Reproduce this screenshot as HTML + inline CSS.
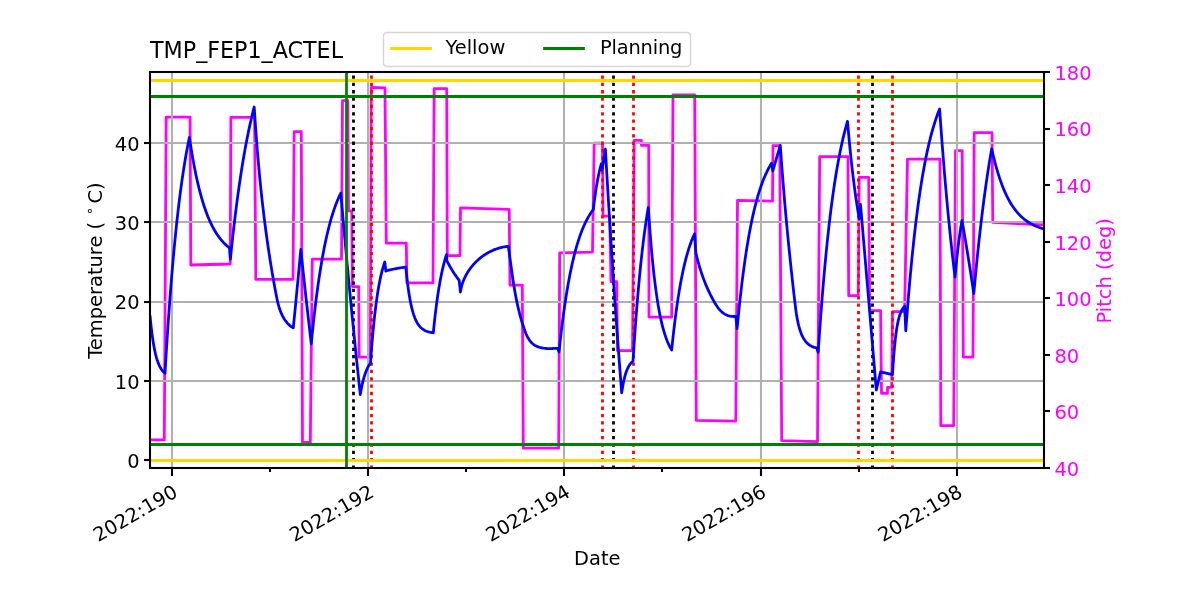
<!DOCTYPE html>
<html lang="en"><head><meta charset="utf-8"><title>TMP_FEP1_ACTEL</title>
<style>html,body{margin:0;padding:0;background:#fff}svg{display:block;will-change:transform}</style></head>
<body>
<svg width="1200" height="600" viewBox="0 0 1200 600" font-family="'DejaVu Sans','Liberation Sans',sans-serif">
<rect width="1200" height="600" fill="#fff"/>
<clipPath id="ax"><rect x="150" y="72" width="894" height="396"/></clipPath>
<g clip-path="url(#ax)" fill="none" stroke-linejoin="round">
<path d="M150 439.9 L164.3 439.9 L166.2 117.1 L190.1 117.1 L190.8 265 L230.2 264 L230.9 117.4 L254.6 117.4 L255.8 279.4 L293 279.4 L294.2 131.6 L301.3 131.6 L302.5 442.4 L310.3 442.4 L312.3 259.1 L341.5 259.1 L342.5 100.7 L347.8 100.7 L348.5 210.8 L351.8 210.8 L352.5 286.6 L358.7 286.6 L359.2 357.1 L370.3 357.1 L371.3 87.4 L385 87.9 L386.3 243.2 L406.3 243.2 L406.9 282.9 L433 282.9 L434.2 88.7 L446.7 88.7 L447.3 255.7 L460 255.7 L460.5 207.9 L509.2 209.4 L510 285.2 L522.3 285.2 L523.3 448.2 L558.7 448.2 L559.7 252.9 L592.5 252.1 L594.2 143.2 L602.5 143.2 L603 216.1 L609.7 216.1 L611 281.6 L616.7 281.6 L617.5 350.7 L632.5 350.7 L634.2 140.4 L641.3 140.4 L641.5 145.4 L648.7 145.4 L649 317.1 L671.7 317.1 L673 94.9 L694.7 94.9 L696.3 420.4 L735.8 421.2 L737.5 200.4 L772.5 201.1 L773 145.7 L779.7 145.7 L781.7 440.7 L817.5 441.6 L819.7 156.6 L848 156.6 L848.7 295.7 L858.3 295.7 L859.2 177.4 L868.7 177.4 L869.7 310.7 L880.6 310.7 L881.5 393.3 L887.5 393.3 L887.5 387.4 L891.7 387.4 L892.5 311.6 L904.6 311.6 L907.5 159.1 L940 159.1 L940.8 425.7 L953.7 425.7 L955.5 150.7 L962.2 150.7 L963.3 357.1 L973 357.1 L974.2 132.7 L992 132.7 L992.8 222.4 L1044 224.9" stroke="#f0f" stroke-width="2.78"/>
</g>
<g stroke="#000" stroke-width="2.08">
<line x1="1044" x2="1050" y1="468" y2="468"/>
<line x1="1044" x2="1050" y1="411" y2="411"/>
<line x1="1044" x2="1050" y1="355" y2="355"/>
<line x1="1044" x2="1050" y1="298" y2="298"/>
<line x1="1044" x2="1050" y1="242" y2="242"/>
<line x1="1044" x2="1050" y1="185" y2="185"/>
<line x1="1044" x2="1050" y1="129" y2="129"/>
<line x1="1044" x2="1050" y1="72" y2="72"/>
</g>
<g font-size="19.44" fill="#f0f">
<text x="1054.42" y="475.79">40</text>
<text x="1054.42" y="419.22">60</text>
<text x="1054.42" y="362.64">80</text>
<text x="1054.42" y="306.07">100</text>
<text x="1054.42" y="249.5">120</text>
<text x="1054.42" y="192.93">140</text>
<text x="1054.42" y="136.36">160</text>
<text x="1054.42" y="79.79">180</text>
<text transform="translate(1111.06 270.8) rotate(-90)" text-anchor="middle">Pitch (deg)</text>
</g>
<g clip-path="url(#ax)" fill="none">
<g stroke="#b0b0b0" stroke-width="2.08">
<line x1="172" x2="172" y1="468" y2="72"/>
<line x1="368" x2="368" y1="468" y2="72"/>
<line x1="564" x2="564" y1="468" y2="72"/>
<line x1="761" x2="761" y1="468" y2="72"/>
<line x1="957" x2="957" y1="468" y2="72"/>
<line x1="150" x2="1044" y1="460" y2="460"/>
<line x1="150" x2="1044" y1="381" y2="381"/>
<line x1="150" x2="1044" y1="302" y2="302"/>
<line x1="150" x2="1044" y1="222" y2="222"/>
<line x1="150" x2="1044" y1="143" y2="143"/>
</g>
<g stroke-width="2.78" stroke-dasharray="3.3 4.06">
<line x1="353.5" x2="353.5" y1="468.76" y2="72" stroke="#000"/>
<line x1="613.5" x2="613.5" y1="468.76" y2="72" stroke="#000"/>
<line x1="872.5" x2="872.5" y1="468.76" y2="72" stroke="#000"/>
<line x1="371.5" x2="371.5" y1="468.76" y2="72" stroke="#f00"/>
<line x1="602.5" x2="602.5" y1="468.76" y2="72" stroke="#f00"/>
<line x1="633.5" x2="633.5" y1="468.76" y2="72" stroke="#f00"/>
<line x1="858.5" x2="858.5" y1="468.76" y2="72" stroke="#f00"/>
<line x1="892.5" x2="892.5" y1="468.76" y2="72" stroke="#f00"/>
</g>
<path d="M150 315.3 L150.6 321.51 L151.2 327.11 L151.8 332.15 L152.4 336.69 L153 340.78 L153.6 344.46 L154.2 347.78 L154.8 350.77 L155.4 353.46 L156 355.88 L156.6 358.07 L157.2 360.03 L157.8 361.81 L158.4 363.4 L159 364.84 L159.6 366.14 L160.2 367.3 L160.8 368.35 L161.4 369.3 L162 370.15 L162.6 370.92 L163.2 371.61 L163.8 372.23 L164.4 372.79 L165 373.3 L165.6 363.24 L166.19 353.49 L166.79 344.03 L167.38 334.87 L167.98 326 L168.57 317.39 L169.17 309.06 L169.76 300.98 L170.36 293.15 L170.95 285.56 L171.55 278.2 L172.14 271.07 L172.74 264.16 L173.33 257.47 L173.93 250.98 L174.52 244.69 L175.12 238.6 L175.71 232.69 L176.31 226.97 L176.9 221.42 L177.5 216.04 L178.09 210.83 L178.69 205.78 L179.28 200.89 L179.88 196.15 L180.47 191.55 L181.07 187.1 L181.66 182.78 L182.26 178.59 L182.85 174.54 L183.45 170.61 L184.04 166.8 L184.64 163.11 L185.23 159.53 L185.83 156.07 L186.42 152.71 L187.02 149.45 L187.61 146.29 L188.21 143.24 L188.8 140.27 L189.4 137.4 L190 141.4 L190.6 145.27 L191.2 149.02 L191.79 152.64 L192.39 156.15 L192.99 159.55 L193.59 162.84 L194.19 166.02 L194.79 169.1 L195.39 172.08 L195.98 174.96 L196.58 177.75 L197.18 180.46 L197.78 183.07 L198.38 185.6 L198.98 188.05 L199.57 190.43 L200.17 192.72 L200.77 194.94 L201.37 197.09 L201.97 199.17 L202.57 201.19 L203.17 203.14 L203.76 205.02 L204.36 206.85 L204.96 208.62 L205.56 210.33 L206.16 211.98 L206.76 213.59 L207.36 215.14 L207.95 216.64 L208.55 218.09 L209.15 219.5 L209.75 220.86 L210.35 222.18 L210.95 223.45 L211.54 224.68 L212.14 225.88 L212.74 227.04 L213.34 228.15 L213.94 229.24 L214.54 230.28 L215.14 231.3 L215.73 232.28 L216.33 233.23 L216.93 234.15 L217.53 235.04 L218.13 235.9 L218.73 236.74 L219.33 237.54 L219.92 238.32 L220.52 239.08 L221.12 239.81 L221.72 240.52 L222.32 241.21 L222.92 241.87 L223.51 242.51 L224.11 243.13 L224.71 243.73 L225.31 244.32 L225.91 244.88 L226.51 245.43 L227.11 245.95 L227.7 246.46 L228.3 246.96 L228.9 247.44 L229.5 247.9 L230.4 259 L231 253.19 L231.59 247.52 L232.19 241.98 L232.78 236.57 L233.38 231.29 L233.97 226.13 L234.56 221.09 L235.16 216.17 L235.75 211.36 L236.35 206.67 L236.94 202.09 L237.54 197.61 L238.13 193.24 L238.73 188.97 L239.32 184.8 L239.92 180.72 L240.51 176.74 L241.11 172.86 L241.7 169.06 L242.3 165.36 L242.89 161.74 L243.49 158.21 L244.09 154.75 L244.68 151.38 L245.28 148.09 L245.87 144.87 L246.47 141.73 L247.06 138.67 L247.66 135.67 L248.25 132.75 L248.84 129.89 L249.44 127.1 L250.03 124.37 L250.63 121.71 L251.22 119.11 L251.82 116.57 L252.41 114.1 L253.01 111.67 L253.6 109.31 L254.2 107 L254.79 116.04 L255.38 124.65 L255.98 132.87 L256.57 140.7 L257.16 148.18 L257.75 155.34 L258.35 162.21 L258.94 168.79 L259.53 175.12 L260.12 181.21 L260.72 187.08 L261.31 192.75 L261.9 198.23 L262.49 203.53 L263.09 208.67 L263.68 213.65 L264.27 218.48 L264.86 223.18 L265.46 227.76 L266.05 232.21 L266.64 236.55 L267.23 240.79 L267.83 244.92 L268.42 248.96 L269.01 252.91 L269.6 256.77 L270.2 260.55 L270.79 264.25 L271.38 267.88 L271.97 271.44 L272.57 274.93 L273.16 278.35 L273.75 281.72 L274.34 285.02 L274.93 288.28 L275.53 291.47 L276.12 294.6 L276.71 297.6 L277.3 300.39 L277.9 302.91 L278.49 305.18 L279.08 307.24 L279.67 309.08 L280.27 310.73 L280.86 312.25 L281.45 313.67 L282.04 314.92 L282.64 316.11 L283.23 317.19 L283.82 318.22 L284.41 319.16 L285.01 320.06 L285.6 320.88 L286.19 321.69 L286.78 322.4 L287.38 323.11 L287.97 323.75 L288.56 324.34 L289.15 324.94 L289.75 325.45 L290.34 325.92 L290.93 326.39 L291.52 326.81 L292.12 327.17 L292.71 327.54 L293.3 327.9 L293.88 322.07 L294.45 316.21 L295.03 310.31 L295.61 304.38 L296.18 298.42 L296.76 292.42 L297.34 286.39 L297.92 280.33 L298.49 274.23 L299.07 268.1 L299.65 261.94 L300.22 255.74 L300.8 249.5 L301.38 254.99 L301.96 260.45 L302.54 265.88 L303.12 271.28 L303.7 276.65 L304.28 281.99 L304.86 287.3 L305.44 292.58 L306.02 297.83 L306.61 303.05 L307.19 308.24 L307.77 313.4 L308.35 318.53 L308.93 323.63 L309.51 328.7 L310.09 333.75 L310.67 338.76 L311.25 343.75 L311.84 337.73 L312.43 331.9 L313.02 326.25 L313.61 320.79 L314.2 315.51 L314.8 310.39 L315.39 305.44 L315.98 300.65 L316.57 296.02 L317.16 291.53 L317.75 287.19 L318.34 282.98 L318.93 278.92 L319.52 274.98 L320.12 271.17 L320.71 267.49 L321.3 263.92 L321.89 260.46 L322.48 257.12 L323.07 253.89 L323.66 250.76 L324.25 247.73 L324.84 244.8 L325.43 241.96 L326.02 239.21 L326.62 236.56 L327.21 233.98 L327.8 231.5 L328.39 229.09 L328.98 226.76 L329.57 224.5 L330.16 222.32 L330.75 220.2 L331.34 218.16 L331.94 216.18 L332.53 214.26 L333.12 212.41 L333.71 210.61 L334.3 208.88 L334.89 207.2 L335.48 205.57 L336.07 204 L336.66 202.47 L337.25 201 L337.85 199.57 L338.44 198.19 L339.03 196.86 L339.62 195.56 L340.21 194.31 L340.8 193.1 L341.39 199.9 L341.98 206.66 L342.57 213.37 L343.16 220.03 L343.75 226.65 L344.35 233.22 L344.94 239.75 L345.53 246.23 L346.12 252.67 L346.71 259.06 L347.3 265.41 L347.89 271.71 L348.48 277.97 L349.07 284.19 L349.66 290.37 L350.25 296.5 L350.85 302.59 L351.44 308.64 L352.03 314.64 L352.62 320.61 L353.21 326.53 L353.8 332.41 L354.39 338.25 L354.98 344.06 L355.57 349.82 L356.16 355.54 L356.75 361.22 L357.35 366.86 L357.94 372.47 L358.53 378.03 L359.12 383.56 L359.71 389.05 L360.3 394.5 L360.9 391.06 L361.5 387.91 L362.1 385.03 L362.7 382.41 L363.3 380.01 L363.9 377.81 L364.5 375.81 L365.1 373.98 L365.7 372.31 L366.3 370.78 L366.9 369.38 L367.5 368.11 L368.1 366.94 L368.7 365.88 L369.3 364.9 L369.9 364.01 L370.5 363.2 L371.1 354.92 L371.69 347.18 L372.29 339.95 L372.88 333.2 L373.48 326.89 L374.07 321 L374.67 315.5 L375.27 310.36 L375.86 305.56 L376.46 301.08 L377.05 296.89 L377.65 292.98 L378.25 289.32 L378.84 285.91 L379.44 282.72 L380.03 279.74 L380.63 276.96 L381.23 274.36 L381.82 271.94 L382.42 269.67 L383.01 267.55 L383.61 265.57 L384.2 263.73 L384.8 262 L385.8 271 L386.39 270.83 L386.98 270.67 L387.56 270.51 L388.15 270.35 L388.74 270.2 L389.33 270.05 L389.92 269.91 L390.51 269.77 L391.09 269.63 L391.68 269.5 L392.27 269.36 L392.86 269.24 L393.45 269.11 L394.04 268.99 L394.62 268.87 L395.21 268.76 L395.8 268.64 L396.39 268.53 L396.98 268.43 L397.56 268.32 L398.15 268.22 L398.74 268.12 L399.33 268.02 L399.92 267.93 L400.51 267.84 L401.09 267.75 L401.68 267.66 L402.27 267.57 L402.86 267.49 L403.45 267.41 L404.04 267.33 L404.62 267.25 L405.21 267.17 L405.8 267.1 L406.4 273.14 L407 278.64 L407.59 283.63 L408.19 288.17 L408.79 292.3 L409.39 296.05 L409.98 299.47 L410.58 302.57 L411.18 305.39 L411.78 307.96 L412.38 310.29 L412.97 312.41 L413.57 314.34 L414.17 316.09 L414.77 317.68 L415.37 319.13 L415.96 320.45 L416.56 321.65 L417.16 322.73 L417.76 323.72 L418.35 324.62 L418.95 325.44 L419.55 326.19 L420.15 326.86 L420.75 327.48 L421.34 328.04 L421.94 328.54 L422.54 329.01 L423.14 329.43 L423.73 329.81 L424.33 330.16 L424.93 330.47 L425.53 330.76 L426.13 331.02 L426.72 331.26 L427.32 331.47 L427.92 331.67 L428.52 331.85 L429.12 332.01 L429.71 332.16 L430.31 332.29 L430.91 332.41 L431.51 332.52 L432.1 332.63 L432.7 332.72 L433.3 332.8 L433.9 326.85 L434.5 321.22 L435.1 315.88 L435.7 310.83 L436.3 306.05 L436.9 301.53 L437.5 297.24 L438.1 293.19 L438.7 289.35 L439.3 285.71 L439.9 282.27 L440.5 279.01 L441.1 275.92 L441.7 273 L442.3 270.24 L442.9 267.62 L443.5 265.14 L444.1 262.8 L444.7 260.58 L445.3 258.48 L445.9 256.48 L446.5 254.6 L446.9 260.8 L447.49 261.94 L448.07 263.06 L448.66 264.16 L449.24 265.23 L449.83 266.28 L450.41 267.31 L451 268.32 L451.59 269.3 L452.17 270.27 L452.76 271.22 L453.34 272.14 L453.93 273.05 L454.51 273.94 L455.1 274.8 L455.69 275.66 L456.27 276.49 L456.86 277.3 L457.44 278.1 L458.03 278.88 L458.61 279.65 L459.2 280.4 L460.4 292 L461 288.68 L461.6 286.22 L462.2 284.17 L462.79 282.39 L463.39 280.8 L463.99 279.34 L464.59 278 L465.19 276.75 L465.79 275.58 L466.39 274.47 L466.99 273.42 L467.58 272.42 L468.18 271.47 L468.78 270.56 L469.38 269.68 L469.98 268.84 L470.58 268.03 L471.18 267.25 L471.78 266.5 L472.38 265.77 L472.97 265.07 L473.57 264.39 L474.17 263.73 L474.77 263.09 L475.37 262.47 L475.97 261.87 L476.57 261.28 L477.16 260.71 L477.76 260.16 L478.36 259.63 L478.96 259.1 L479.56 258.6 L480.16 258.11 L480.76 257.62 L481.36 257.16 L481.95 256.71 L482.55 256.26 L483.15 255.83 L483.75 255.42 L484.35 255.01 L484.95 254.62 L485.55 254.23 L486.15 253.86 L486.75 253.49 L487.34 253.14 L487.94 252.8 L488.54 252.47 L489.14 252.14 L489.74 251.83 L490.34 251.52 L490.94 251.23 L491.54 250.94 L492.13 250.67 L492.73 250.4 L493.33 250.14 L493.93 249.89 L494.53 249.65 L495.13 249.41 L495.73 249.19 L496.32 248.97 L496.92 248.76 L497.52 248.56 L498.12 248.37 L498.72 248.19 L499.32 248.01 L499.92 247.84 L500.52 247.68 L501.12 247.53 L501.71 247.39 L502.31 247.25 L502.91 247.12 L503.51 247 L504.11 246.88 L504.71 246.78 L505.31 246.68 L505.91 246.59 L506.5 246.51 L507.1 246.43 L507.7 246.36 L508.3 246.3 L508.3 246.25 L508.9 250.44 L509.5 254.75 L510.09 259.14 L510.69 263.55 L511.29 267.93 L511.89 272.23 L512.48 276.42 L513.08 280.44 L513.68 284.29 L514.28 287.96 L514.87 291.45 L515.47 294.76 L516.07 297.9 L516.67 300.88 L517.26 303.72 L517.86 306.41 L518.46 308.99 L519.06 311.44 L519.65 313.79 L520.25 316.04 L520.85 318.2 L521.45 320.27 L522.04 322.27 L522.64 324.19 L523.24 326.05 L523.84 327.85 L524.43 329.59 L525.03 331.23 L525.63 332.78 L526.23 334.21 L526.83 335.53 L527.42 336.73 L528.02 337.84 L528.62 338.84 L529.22 339.76 L529.81 340.6 L530.41 341.36 L531.01 342.05 L531.61 342.69 L532.2 343.26 L532.8 343.8 L533.4 344.28 L534 344.72 L534.59 345.11 L535.19 345.48 L535.79 345.81 L536.39 346.1 L536.98 346.38 L537.58 346.63 L538.18 346.85 L538.78 347.06 L539.37 347.25 L539.97 347.43 L540.57 347.58 L541.17 347.73 L541.77 347.86 L542.36 347.98 L542.96 348.09 L543.56 348.18 L544.16 348.27 L544.75 348.34 L545.35 348.41 L545.95 348.46 L546.55 348.51 L547.14 348.55 L547.74 348.58 L548.34 348.6 L548.94 348.61 L549.53 348.61 L550.13 348.6 L550.73 348.59 L551.33 348.56 L551.92 348.54 L552.52 348.51 L553.12 348.48 L553.72 348.45 L554.31 348.43 L554.91 348.41 L555.51 348.41 L556.11 348.41 L556.7 348.43 L557.3 348.46 L557.9 348.5 L559 352.1 L559.59 346.54 L560.18 341.16 L560.77 335.96 L561.37 330.94 L561.96 326.09 L562.55 321.4 L563.14 316.87 L563.73 312.49 L564.32 308.26 L564.91 304.17 L565.51 300.22 L566.1 296.4 L566.69 292.71 L567.28 289.15 L567.87 285.7 L568.46 282.37 L569.05 279.16 L569.64 276.05 L570.24 273.04 L570.83 270.14 L571.42 267.34 L572.01 264.62 L572.6 262.01 L573.19 259.47 L573.78 257.03 L574.38 254.66 L574.97 252.38 L575.56 250.17 L576.15 248.04 L576.74 245.98 L577.33 243.99 L577.92 242.06 L578.52 240.2 L579.11 238.41 L579.7 236.67 L580.29 234.99 L580.88 233.37 L581.47 231.8 L582.06 230.29 L582.66 228.83 L583.25 227.41 L583.84 226.05 L584.43 224.72 L585.02 223.45 L585.61 222.22 L586.2 221.02 L586.79 219.87 L587.39 218.76 L587.98 217.69 L588.57 216.65 L589.16 215.64 L589.75 214.67 L590.34 213.73 L590.93 212.83 L591.53 211.95 L592.12 211.11 L592.71 210.29 L593.3 209.5 L593.87 204.7 L594.44 200.21 L595.01 195.99 L595.59 192.03 L596.16 188.33 L596.73 184.85 L597.3 181.59 L597.87 178.53 L598.44 175.66 L599.01 172.98 L599.59 170.46 L600.16 168.09 L600.73 165.88 L601.3 163.8 L602.1 170 L605.4 149.2 L605.98 159.34 L606.56 169.35 L607.15 179.26 L607.73 189.05 L608.31 198.72 L608.89 208.28 L609.48 217.74 L610.06 227.08 L610.64 236.31 L611.22 245.44 L611.8 254.46 L612.39 263.38 L612.97 272.19 L613.55 280.91 L614.13 289.52 L614.71 298.03 L615.3 306.44 L615.88 314.76 L616.46 322.98 L617.04 331.1 L617.62 339.13 L618.21 347.07 L618.79 354.91 L619.37 362.67 L619.95 370.33 L620.54 377.91 L621.12 385.4 L621.7 392.8 L622.29 388.89 L622.89 385.4 L623.48 382.31 L624.08 379.55 L624.67 377.1 L625.27 374.92 L625.86 372.98 L626.46 371.26 L627.05 369.72 L627.65 368.36 L628.24 367.14 L628.84 366.06 L629.43 365.1 L630.03 364.25 L630.62 363.49 L631.22 362.81 L631.81 362.21 L632.41 361.68 L633 361.2 L633.59 351.98 L634.18 343.11 L634.77 334.58 L635.35 326.38 L635.94 318.49 L636.53 310.89 L637.12 303.59 L637.71 296.56 L638.3 289.8 L638.88 283.3 L639.47 277.05 L640.06 271.03 L640.65 265.25 L641.24 259.68 L641.83 254.32 L642.42 249.17 L643 244.22 L643.59 239.45 L644.18 234.87 L644.77 230.45 L645.36 226.21 L645.95 222.13 L646.53 218.2 L647.12 214.43 L647.71 210.79 L648.3 207.3 L648.88 216.05 L649.47 224.32 L650.05 232.14 L650.64 239.53 L651.22 246.51 L651.81 253.11 L652.39 259.35 L652.98 265.24 L653.56 270.81 L654.15 276.07 L654.74 281.05 L655.32 285.75 L655.9 290.19 L656.49 294.39 L657.08 298.36 L657.66 302.11 L658.25 305.65 L658.83 309 L659.41 312.17 L660 315.16 L660.59 317.99 L661.17 320.66 L661.75 323.18 L662.34 325.57 L662.92 327.83 L663.51 329.96 L664.1 331.97 L664.68 333.88 L665.26 335.67 L665.85 337.37 L666.44 338.98 L667.02 340.5 L667.61 341.94 L668.19 343.29 L668.78 344.57 L669.36 345.78 L669.95 346.93 L670.53 348.01 L671.12 349.03 L671.7 350 L672.29 344.23 L672.87 338.69 L673.46 333.36 L674.05 328.24 L674.64 323.33 L675.22 318.6 L675.81 314.06 L676.4 309.7 L676.98 305.51 L677.57 301.49 L678.16 297.62 L678.75 293.9 L679.33 290.33 L679.92 286.9 L680.51 283.6 L681.09 280.44 L681.68 277.39 L682.27 274.47 L682.86 271.66 L683.44 268.96 L684.03 266.37 L684.62 263.88 L685.21 261.48 L685.79 259.18 L686.38 256.97 L686.97 254.85 L687.55 252.81 L688.14 250.85 L688.73 248.96 L689.32 247.16 L689.9 245.42 L690.49 243.75 L691.08 242.14 L691.66 240.6 L692.25 239.12 L692.84 237.69 L693.43 236.33 L694.01 235.01 L694.6 233.75 L695.8 252.5 L696.4 255.06 L696.99 257.51 L697.59 259.84 L698.19 262.08 L698.79 264.23 L699.38 266.29 L699.98 268.28 L700.58 270.2 L701.17 272.05 L701.77 273.84 L702.37 275.57 L702.96 277.25 L703.56 278.87 L704.16 280.45 L704.76 281.99 L705.35 283.48 L705.95 284.93 L706.55 286.34 L707.14 287.72 L707.74 289.07 L708.34 290.38 L708.93 291.66 L709.53 292.91 L710.13 294.13 L710.73 295.33 L711.32 296.5 L711.92 297.64 L712.52 298.76 L713.11 299.86 L713.71 300.94 L714.31 301.99 L714.9 303.01 L715.5 303.99 L716.1 304.94 L716.7 305.84 L717.29 306.71 L717.89 307.53 L718.49 308.31 L719.08 309.04 L719.68 309.73 L720.28 310.38 L720.87 310.99 L721.47 311.56 L722.07 312.1 L722.67 312.59 L723.26 313.05 L723.86 313.47 L724.46 313.86 L725.05 314.22 L725.65 314.54 L726.25 314.84 L726.84 315.11 L727.44 315.36 L728.04 315.57 L728.64 315.76 L729.23 315.93 L729.83 316.07 L730.43 316.19 L731.02 316.29 L731.62 316.37 L732.22 316.43 L732.81 316.47 L733.41 316.49 L734.01 316.49 L734.61 316.47 L735.2 316.44 L735.8 316.4 L737.1 328.7 L737.69 322.45 L738.29 316.4 L738.88 310.54 L739.47 304.87 L740.07 299.38 L740.66 294.07 L741.25 288.93 L741.84 283.96 L742.44 279.14 L743.03 274.48 L743.62 269.97 L744.22 265.6 L744.81 261.37 L745.4 257.28 L746 253.32 L746.59 249.49 L747.18 245.78 L747.78 242.19 L748.37 238.72 L748.96 235.35 L749.56 232.1 L750.15 228.95 L750.74 225.9 L751.33 222.95 L751.93 220.09 L752.52 217.32 L753.11 214.65 L753.71 212.06 L754.3 209.55 L754.89 207.12 L755.49 204.77 L756.08 202.5 L756.67 200.3 L757.27 198.17 L757.86 196.11 L758.45 194.11 L759.04 192.18 L759.64 190.31 L760.23 188.5 L760.82 186.75 L761.42 185.06 L762.01 183.42 L762.6 181.83 L763.2 180.29 L763.79 178.8 L764.38 177.36 L764.98 175.97 L765.57 174.62 L766.16 173.32 L766.76 172.05 L767.35 170.83 L767.94 169.65 L768.53 168.5 L769.13 167.39 L769.72 166.32 L770.31 165.28 L770.91 164.27 L771.5 163.3 L772.8 170.8 L780.3 145.4 L780.9 153.9 L781.49 162.1 L782.09 170.03 L782.69 177.72 L783.28 185.19 L783.88 192.45 L784.48 199.52 L785.07 206.41 L785.67 213.14 L786.27 219.72 L786.86 226.15 L787.46 232.46 L788.06 238.63 L788.65 244.69 L789.25 250.64 L789.85 256.47 L790.44 262.21 L791.04 267.86 L791.64 273.41 L792.23 278.88 L792.83 284.26 L793.43 289.56 L794.02 294.79 L794.62 299.95 L795.22 305.01 L795.81 309.73 L796.41 313.91 L797.01 317.5 L797.6 320.65 L798.2 323.41 L798.8 325.85 L799.4 328.05 L799.99 330.05 L800.59 331.82 L801.19 333.42 L801.78 334.88 L802.38 336.17 L802.98 337.33 L803.57 338.41 L804.17 339.35 L804.77 340.25 L805.36 341.04 L805.96 341.77 L806.56 342.47 L807.15 343.05 L807.75 343.63 L808.35 344.15 L808.94 344.6 L809.54 345.05 L810.14 345.45 L810.73 345.78 L811.33 346.12 L811.93 346.45 L812.52 346.68 L813.12 346.91 L813.72 347.14 L814.31 347.35 L814.91 347.49 L815.51 347.63 L816.1 347.76 L816.7 347.9 L818.2 352.5 L818.8 343.5 L819.4 334.77 L819.99 326.31 L820.59 318.1 L821.19 310.14 L821.79 302.43 L822.39 294.94 L822.98 287.69 L823.58 280.66 L824.18 273.83 L824.78 267.22 L825.38 260.81 L825.97 254.59 L826.57 248.56 L827.17 242.71 L827.77 237.04 L828.37 231.54 L828.96 226.21 L829.56 221.04 L830.16 216.03 L830.76 211.17 L831.36 206.46 L831.95 201.89 L832.55 197.46 L833.15 193.16 L833.75 188.99 L834.34 184.95 L834.94 181.04 L835.54 177.24 L836.14 173.56 L836.74 169.98 L837.33 166.52 L837.93 163.16 L838.53 159.91 L839.13 156.75 L839.73 153.69 L840.32 150.72 L840.92 147.84 L841.52 145.05 L842.12 142.34 L842.72 139.72 L843.31 137.18 L843.91 134.71 L844.51 132.32 L845.11 130 L845.71 127.75 L846.3 125.57 L846.9 123.45 L847.5 121.4 L848.09 128.1 L848.67 134.56 L849.25 140.8 L849.84 146.81 L850.42 152.62 L851.01 158.22 L851.6 163.62 L852.18 168.83 L852.76 173.85 L853.35 178.7 L853.94 183.38 L854.52 187.89 L855.11 192.24 L855.69 196.44 L856.28 200.49 L856.86 204.4 L857.45 208.17 L858.03 211.81 L858.62 215.32 L859.2 218.7 L860.5 204.5 L861.09 211.3 L861.67 218.11 L862.26 224.93 L862.84 231.75 L863.43 238.57 L864.01 245.4 L864.6 252.24 L865.18 259.08 L865.77 265.92 L866.35 272.77 L866.94 279.63 L867.52 286.49 L868.11 293.35 L868.69 300.22 L869.28 307.1 L869.86 313.98 L870.45 320.86 L871.03 327.75 L871.62 334.65 L872.2 341.55 L872.79 348.46 L873.37 355.37 L873.96 362.28 L874.54 369.21 L875.13 376.13 L875.71 383.06 L876.3 390 L880.6 371.8 L892.5 374.6 L893.08 365.33 L893.65 357.25 L894.23 350.2 L894.8 344.05 L895.38 338.69 L895.96 334.02 L896.53 329.95 L897.11 326.4 L897.69 323.3 L898.26 320.6 L898.84 318.25 L899.41 316.2 L899.99 314.41 L900.57 312.85 L901.14 311.49 L901.72 310.3 L902.3 309.27 L902.87 308.37 L903.45 307.58 L904.02 306.9 L904.6 306.3 L905.8 330.8 L906.39 322.77 L906.99 314.99 L907.58 307.43 L908.17 300.1 L908.76 292.99 L909.36 286.08 L909.95 279.39 L910.54 272.89 L911.14 266.58 L911.73 260.46 L912.32 254.53 L912.92 248.77 L913.51 243.18 L914.1 237.75 L914.69 232.49 L915.29 227.38 L915.88 222.43 L916.47 217.62 L917.07 212.96 L917.66 208.43 L918.25 204.04 L918.85 199.78 L919.44 195.64 L920.03 191.63 L920.62 187.73 L921.22 183.96 L921.81 180.29 L922.4 176.73 L923 173.28 L923.59 169.94 L924.18 166.69 L924.78 163.53 L925.37 160.47 L925.96 157.51 L926.55 154.63 L927.15 151.83 L927.74 149.12 L928.33 146.49 L928.93 143.94 L929.52 141.46 L930.11 139.05 L930.71 136.72 L931.3 134.46 L931.89 132.26 L932.48 130.13 L933.08 128.07 L933.67 126.06 L934.26 124.11 L934.86 122.22 L935.45 120.39 L936.04 118.61 L936.64 116.89 L937.23 115.21 L937.82 113.59 L938.41 112.01 L939.01 110.48 L939.6 109 L940.19 117.4 L940.78 125.61 L941.38 133.65 L941.97 141.51 L942.56 149.2 L943.15 156.72 L943.75 164.07 L944.34 171.27 L944.93 178.31 L945.52 185.19 L946.12 191.93 L946.71 198.52 L947.3 204.96 L947.89 211.27 L948.48 217.43 L949.08 223.46 L949.67 229.36 L950.26 235.14 L950.85 240.78 L951.45 246.3 L952.04 251.71 L952.63 256.99 L953.22 262.16 L953.82 267.22 L954.41 272.16 L955 277 L955.58 270.68 L956.17 264.71 L956.75 259.07 L957.33 253.73 L957.92 248.69 L958.5 243.92 L959.08 239.41 L959.67 235.15 L960.25 231.12 L960.83 227.31 L961.42 223.71 L962 220.3 L962.59 223.67 L963.18 227.08 L963.77 230.51 L964.36 233.98 L964.95 237.47 L965.54 241 L966.13 244.55 L966.72 248.14 L967.31 251.76 L967.9 255.41 L968.49 259.09 L969.08 262.8 L969.67 266.55 L970.26 270.33 L970.85 274.14 L971.44 277.98 L972.03 281.86 L972.62 285.77 L973.21 289.72 L973.8 293.7 L974.4 287.1 L974.99 280.65 L975.59 274.35 L976.19 268.19 L976.78 262.17 L977.38 256.28 L977.98 250.53 L978.57 244.9 L979.17 239.41 L979.77 234.03 L980.36 228.78 L980.96 223.65 L981.56 218.63 L982.15 213.73 L982.75 208.94 L983.35 204.25 L983.94 199.67 L984.54 195.2 L985.14 190.82 L985.73 186.55 L986.33 182.37 L986.93 178.28 L987.52 174.29 L988.12 170.39 L988.72 166.57 L989.31 162.84 L989.91 159.2 L990.51 155.64 L991.1 152.15 L991.7 148.75 L992.29 151.42 L992.89 154 L993.48 156.5 L994.08 158.93 L994.67 161.28 L995.27 163.55 L995.86 165.76 L996.45 167.89 L997.05 169.96 L997.64 171.97 L998.24 173.91 L998.83 175.79 L999.43 177.62 L1000.02 179.38 L1000.61 181.09 L1001.21 182.75 L1001.8 184.36 L1002.4 185.91 L1002.99 187.42 L1003.59 188.88 L1004.18 190.3 L1004.78 191.67 L1005.37 193 L1005.96 194.28 L1006.56 195.53 L1007.15 196.74 L1007.75 197.91 L1008.34 199.04 L1008.94 200.14 L1009.53 201.2 L1010.12 202.23 L1010.72 203.23 L1011.31 204.2 L1011.91 205.14 L1012.5 206.05 L1013.1 206.93 L1013.69 207.78 L1014.28 208.6 L1014.88 209.4 L1015.47 210.18 L1016.07 210.93 L1016.66 211.66 L1017.26 212.36 L1017.85 213.05 L1018.44 213.71 L1019.04 214.35 L1019.63 214.97 L1020.23 215.57 L1020.82 216.15 L1021.42 216.72 L1022.01 217.27 L1022.6 217.8 L1023.2 218.31 L1023.79 218.81 L1024.39 219.29 L1024.98 219.76 L1025.58 220.21 L1026.17 220.65 L1026.76 221.07 L1027.36 221.48 L1027.95 221.88 L1028.55 222.27 L1029.14 222.64 L1029.74 223 L1030.33 223.36 L1030.92 223.7 L1031.52 224.03 L1032.11 224.34 L1032.71 224.65 L1033.3 224.95 L1033.9 225.24 L1034.49 225.53 L1035.09 225.8 L1035.68 226.06 L1036.27 226.32 L1036.87 226.57 L1037.46 226.81 L1038.06 227.04 L1038.65 227.26 L1039.25 227.48 L1039.84 227.69 L1040.43 227.9 L1041.03 228.1 L1041.62 228.29 L1042.22 228.48 L1042.81 228.66 L1043.41 228.83 L1044 229" stroke="#00f" stroke-width="2.78" stroke-linejoin="round"/>
<g stroke-width="2.78">
<line x1="150" x2="1044" y1="80.5" y2="80.5" stroke="#ffd700"/>
<line x1="150" x2="1044" y1="460.5" y2="460.5" stroke="#ffd700"/>
<line x1="150" x2="1044" y1="96.5" y2="96.5" stroke="#008000"/>
<line x1="150" x2="1044" y1="444.5" y2="444.5" stroke="#008000"/>
<line x1="346.5" x2="346.5" y1="468" y2="72" stroke="#008000"/>
</g>
</g>
<g stroke="#000" stroke-width="2.08">
<line x1="172" x2="172" y1="468" y2="476"/>
<line x1="368" x2="368" y1="468" y2="476"/>
<line x1="564" x2="564" y1="468" y2="476"/>
<line x1="761" x2="761" y1="468" y2="476"/>
<line x1="957" x2="957" y1="468" y2="476"/>
<line x1="270" x2="270" y1="468" y2="472"/>
<line x1="466" x2="466" y1="468" y2="472"/>
<line x1="662" x2="662" y1="468" y2="472"/>
<line x1="859" x2="859" y1="468" y2="472"/>
<line x1="144" x2="150" y1="460" y2="460"/>
<line x1="144" x2="150" y1="381" y2="381"/>
<line x1="144" x2="150" y1="302" y2="302"/>
<line x1="144" x2="150" y1="222" y2="222"/>
<line x1="144" x2="150" y1="143" y2="143"/>
</g>
<rect x="150" y="72" width="894" height="396" fill="none" stroke="#000" stroke-width="2.08"/>
<g font-size="19.44" fill="#000">
<text transform="translate(98.31 542.37) rotate(-30)">2022:190</text>
<text transform="translate(294.51 542.37) rotate(-30)">2022:192</text>
<text transform="translate(490.71 542.37) rotate(-30)">2022:194</text>
<text transform="translate(686.91 542.37) rotate(-30)">2022:196</text>
<text transform="translate(883.11 542.37) rotate(-30)">2022:198</text>
<text x="139.58" y="467.87" text-anchor="end">0</text>
<text x="139.58" y="388.67" text-anchor="end">10</text>
<text x="139.58" y="309.47" text-anchor="end">20</text>
<text x="139.58" y="230.27" text-anchor="end">30</text>
<text x="139.58" y="151.07" text-anchor="end">40</text>
<text x="597.3" y="565.1" text-anchor="middle">Date</text>
<text transform="translate(102.2 358.78) rotate(-90)"><tspan x="0" y="-0.52">Temperature (</tspan><tspan x="143.51" y="-7.96" font-size="13.61">∘</tspan><tspan x="155.21" y="-0.52">C)</tspan></text>
</g>
<text x="150" y="58.11" font-size="22.22">TMP_FEP1_ACTEL</text>
<path d="M387.39 66.5 L686.61 66.5 Q690.5 66.5 690.5 62.61 L690.5 36.39 Q690.5 32.5 686.61 32.5 L387.39 32.5 Q383.5 32.5 383.5 36.39 L383.5 62.61 Q383.5 66.5 387.39 66.5 Z" fill="#fff" fill-opacity="0.8" stroke="#ccc" stroke-opacity="0.8" stroke-width="1.39"/>
<line x1="391.5" x2="430.5" y1="48.5" y2="48.5" stroke="#ffd700" stroke-width="2.78" stroke-linecap="square"/>
<line x1="544.5" x2="583.5" y1="48.5" y2="48.5" stroke="#008000" stroke-width="2.78" stroke-linecap="square"/>
<g font-size="19.44" fill="#000"><text x="445.44" y="54.02">Yellow</text><text x="599.95" y="54.02" textLength="82.4" lengthAdjust="spacing">Planning</text></g>
</svg>
</body></html>
